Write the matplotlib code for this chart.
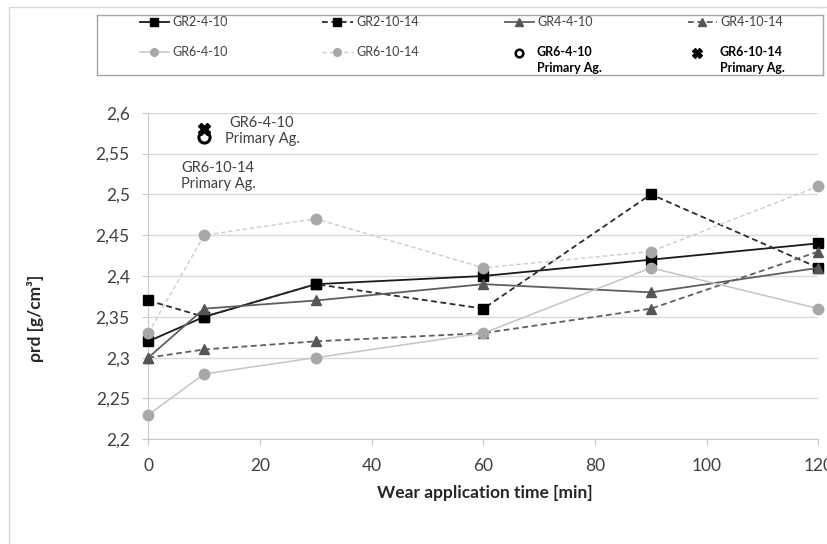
import matplotlib.pyplot as plt
from matplotlib.patches import Rectangle
from matplotlib.ticker import FuncFormatter

plt.rcParams['font.family'] = ['Lato', 'DejaVu Sans']

# data
time_min = [0, 10, 30, 60, 90, 120]
gr2_4_10 = [2.32, 2.35, 2.39, 2.40, 2.42, 2.44]
gr2_10_14 = [2.37, 2.35, 2.39, 2.36, 2.50, 2.41]
gr4_4_10 = [2.30, 2.36, 2.37, 2.39, 2.38, 2.41]
gr4_10_14 = [2.30, 2.31, 2.32, 2.33, 2.36, 2.43]
gr6_4_10 = [2.23, 2.28, 2.30, 2.33, 2.41, 2.36]
gr6_10_14 = [2.33, 2.45, 2.47, 2.41, 2.43, 2.51]
primary_time = [10]
primary_gr6_4_10 = [2.57]
primary_gr6_10_14 = [2.58]

x_ticks = [0, 20, 40, 60, 80, 100, 120]
y_ticks = [2.2, 2.25, 2.3, 2.35, 2.4, 2.45, 2.5, 2.55, 2.6]

DASH = (0, (3.2, 2))
# label, values, line colour, marker colour, linestyle, marker, lw, ms
styles = [
    ('GR2-4-10', gr2_4_10, '#1a1a1a', '#000000', '-', 's', 1.3, 7.5),
    ('GR2-10-14', gr2_10_14, '#2b2b2b', '#000000', DASH, 's', 1.3, 7.5),
    ('GR4-4-10', gr4_4_10, '#5f5f5f', '#555555', '-', '^', 1.3, 7.5),
    ('GR4-10-14', gr4_10_14, '#5f5f5f', '#555555', DASH, '^', 1.3, 7.5),
    ('GR6-4-10', gr6_4_10, '#c4c4c4', '#a8a8a8', '-', 'o', 1.1, 7.5),
    ('GR6-10-14', gr6_10_14, '#cccccc', '#a8a8a8', DASH, 'o', 1.0, 7.5),
]

W, H = 828, 544
fig = plt.figure(figsize=(W / 100, H / 100), dpi=100)

# outer chart frame
fig.add_artist(Rectangle((9 / W, -0.1), 1.2, 1.1 - 7 / H, transform=fig.transFigure,
                         fill=False, edgecolor='#d9d9d9', lw=1))

ax = fig.add_axes([148.3 / W, 1 - 439.3 / H, 670.2 / W, 326.6 / H])
for lab, vals, lc, mc, ls, mk, lw, ms in styles:
    ax.plot(time_min, vals, color=lc, ls=ls, lw=lw, marker=mk, ms=ms,
            mfc=mc, mec=mc, clip_on=False, zorder=3)

ax.plot(primary_time, primary_gr6_4_10, ls='none', marker='o', ms=8, mfc='none',
        mec='black', mew=2.2, zorder=4)
ax.plot(primary_time, primary_gr6_10_14, ls='none', marker='X', ms=8.5,
        color='black', zorder=4)

ax.text(262, H - 131, 'GR6-4-10\nPrimary Ag.', transform=None, ha='center', va='center',
        fontsize=10.5, color='#404040', linespacing=1.25)
ax.text(218, H - 176, 'GR6-10-14\nPrimary Ag.', transform=None, ha='center', va='center',
        fontsize=10.5, color='#404040', linespacing=1.25)

ax.set_xlim(0, 120)
ax.set_ylim(2.2, 2.6)
ax.set_xticks(x_ticks)
ax.set_yticks(y_ticks)
fmt = FuncFormatter(lambda v, p: f'{v:g}'.replace('.', ','))
ax.yaxis.set_major_formatter(fmt)
ax.xaxis.set_major_formatter(fmt)
ax.grid(axis='y', color='#d9d9d9', lw=1)
ax.set_axisbelow(True)
for s in ['top', 'right']:
    ax.spines[s].set_visible(False)
ax.spines['left'].set_color('#c8c8c8')
ax.spines['bottom'].set_color('#c8c8c8')
ax.tick_params(axis='both', direction='out', length=4.3, color='#c8c8c8',
               labelsize=12.5, labelcolor='#404040', pad=9)

fig.text(485 / W, 1 - 493 / H, 'Wear application time [min]', ha='center', va='center',
         fontsize=12.5, fontweight='bold', color='#262626')
fig.text(36 / W, 1 - 318 / H, 'ρrd [g/cm³]', ha='center', va='center', rotation=90,
         fontsize=12.5, fontweight='bold', color='#262626')

# legend box, drawn in pixel coordinates
lx0, lx1, ly0, ly1 = 97, 823, 15, 75
lg = fig.add_axes([lx0 / W, 1 - ly1 / H, (lx1 - lx0) / W, (ly1 - ly0) / H])
lg.set_xlim(lx0, lx1)
lg.set_ylim(ly1, ly0)
lg.set_xticks([])
lg.set_yticks([])
for s in lg.spines.values():
    s.set_color('#a6a6a6')
    s.set_linewidth(1)

slots = [(140, 169, 172, 22), (322, 353, 356, 22), (505, 534, 537, 22), (688, 717, 720, 22),
         (140, 169, 172, 52), (322, 353, 356, 52)]
for (x0, x1, xt, y), (lab, vals, lc, mc, ls, mk, lw, ms) in zip(slots, styles):
    lg.plot([x0, x1], [y, y], color=lc, ls=ls, lw=lw)
    lg.plot([(x0 + x1) / 2], [y], ls='none', marker=mk, ms=5.5, mfc=mc, mec=mc)
    lg.text(xt, y, lab, va='center', ha='left', fontsize=9, color='#404040')

lg.plot([519], [52.5], ls='none', marker='o', ms=5.5, mfc='none', mec='black', mew=1.8)
lg.text(537, 52, 'GR6-4-10', va='center', ha='left', fontsize=9, fontweight='bold')
lg.text(537, 68, 'Primary Ag.', va='center', ha='left', fontsize=9, fontweight='bold')
lg.plot([697], [52.5], ls='none', marker='X', ms=6.5, color='black')
lg.text(720, 52, 'GR6-10-14', va='center', ha='left', fontsize=9, fontweight='bold')
lg.text(720, 68, 'Primary Ag.', va='center', ha='left', fontsize=9, fontweight='bold')

fig.savefig('out.png', dpi=100)
